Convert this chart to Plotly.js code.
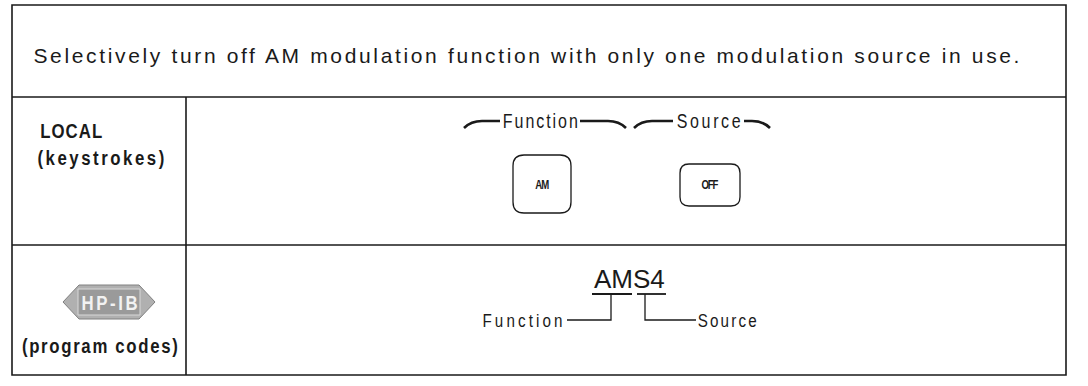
<!DOCTYPE html>
<html>
<head>
<meta charset="utf-8">
<script src="https://cdn.plot.ly/plotly-3.0.1.min.js"></script>
<style>
  html, body { margin: 0; padding: 0; background: #fff; }
  #chart { width: 1088px; height: 386px; }
</style>
</head>
<body>
<div id="chart"></div>
<script>
// ---- content (text values) ----
const headline = 'Selectively turn off AM modulation function with only one modulation source in use.';
const rowLabels = ['LOCAL', '(keystrokes)', '(program codes)'];
const busLogo = 'HP-IB';
const keyGroups = ['Function', 'Source'];
const keyLabels = ['AM', 'OFF'];
const programCode = 'AMS4';
const codeParts = ['Function', 'Source'];

// ---- layout geometry (pixel coordinates, y downward) ----
const W = 1088, H = 386;
const box = { x0: 12, x1: 1066, y0: 5, y1: 375 };
const rowY = [97, 245];
const colX = 186;

const ink = '#1a1a1a';
const narrowAvail = (function () {
  const c = document.createElement('canvas').getContext('2d');
  c.font = '40px "Liberation Sans Narrow", monospace';
  const a = c.measureText('Function LOCAL').width;
  c.font = '40px monospace';
  const b = c.measureText('Function LOCAL').width;
  return Math.abs(a - b) > 1;
})();
const condensed = narrowAvail ? 'Liberation Sans Narrow, Liberation Sans, sans-serif' : 'Liberation Sans, Arial, sans-serif';
const squeeze = narrowAvail ? 1 : 0.8;

const shapes = [];
const line = (path, w) => shapes.push({ type: 'path', path: path, xref: 'x', yref: 'y', line: { color: ink, width: w || 1.5 } });

// outer border and grid
shapes.push({ type: 'rect', xref: 'x', yref: 'y', x0: box.x0, x1: box.x1, y0: box.y0, y1: box.y1, line: { color: ink, width: 1.6 } });
rowY.forEach(y => line(`M ${box.x0} ${y} L ${box.x1} ${y}`, 1.6));
line(`M ${colX} ${rowY[0]} L ${colX} ${box.y1}`, 1.6);

// rounded keys
function roundRect(x0, y0, x1, y1, r) {
  return `M ${x0 + r} ${y0} L ${x1 - r} ${y0} Q ${x1} ${y0} ${x1} ${y0 + r} L ${x1} ${y1 - r} Q ${x1} ${y1} ${x1 - r} ${y1} ` +
         `L ${x0 + r} ${y1} Q ${x0} ${y1} ${x0} ${y1 - r} L ${x0} ${y0 + r} Q ${x0} ${y0} ${x0 + r} ${y0} Z`;
}
const keyBoxes = [[513, 155, 571, 213, 11], [680, 164, 740, 206, 9]];
keyBoxes.forEach(k => line(roundRect(k[0], k[1], k[2], k[3], k[4]), 1.3));

// braces around group labels
const braceY = 121, curlY = 128;
const braces = [[464, 500, 580, 626], [634, 673, 744, 770]];
braces.forEach(b => {
  line(`M ${b[0]} ${curlY} Q ${b[0] + 7} ${braceY} ${b[0] + 18} ${braceY} L ${b[1]} ${braceY}`, 2.6);
  line(`M ${b[2]} ${braceY} L ${b[3] - 18} ${braceY} Q ${b[3] - 7} ${braceY} ${b[3]} ${curlY}`, 2.6);
});

// program-code connectors
line('M 592 294 L 632 294', 1.8);
line('M 637 294 L 666 294', 1.8);
line('M 611 294 L 611 320 L 567 320', 1.3);
line('M 645 294 L 645 320 L 696 320', 1.3);

// HP-IB logo hexagon
shapes.push({ type: 'path', xref: 'x', yref: 'y',
  path: 'M 63 302 L 79 285 L 139 285 L 155 302 L 139 319 L 79 319 Z',
  fillcolor: '#b0b0b0', line: { color: '#808080', width: 1 } });
shapes.push({ type: 'rect', xref: 'x', yref: 'y', x0: 78, x1: 140, y0: 289, y1: 315,
  fillcolor: '#9a9a9a', line: { color: '#d8d8d8', width: 1 } });

const annotations = [];
const fit = [];   // target rendered widths (px) for each annotation, null = natural
const ann = (text, x, y, font, width) => {
  annotations.push({
    text: text, x: x, y: y, xref: 'x', yref: 'y', showarrow: false,
    xanchor: 'center', yanchor: 'middle', font: Object.assign({ color: ink }, font)
  });
  fit.push(width === undefined ? null : width);
};

ann(headline, 526, 55, { family: 'Liberation Sans, Arial, sans-serif', size: 21 }, 986);
ann(rowLabels[0], 71, 130, { family: condensed, size: 21, weight: 'bold' }, { w: 62, c: true });
ann(rowLabels[1], 101, 157, { family: condensed, size: 21, weight: 'bold' }, { w: 127, c: true });
ann(rowLabels[2], 100, 345, { family: condensed, size: 21, weight: 'bold' }, { w: 156, c: true });
ann(busLogo, 109, 302, { family: condensed, size: 21, color: '#f2f2f2', weight: 'bold' }, { w: 56, c: true });
ann(keyGroups[0], 540, 121, { family: condensed, size: 20 }, { w: 75, c: true });
ann(keyGroups[1], 708, 121, { family: condensed, size: 20 }, { w: 64, c: true });
ann(keyLabels[0], 542, 185, { family: condensed, size: 12, weight: 'bold' }, { w: 14, c: true });
ann(keyLabels[1], 710, 185, { family: condensed, size: 12, weight: 'bold' }, { w: 17, c: true });
ann(programCode, 629, 279, { family: 'Liberation Sans, Arial, sans-serif', size: 26 });
ann(codeParts[0], 522, 320, { family: condensed, size: 19 }, { w: 80, c: true });
ann(codeParts[1], 727, 320, { family: condensed, size: 19 }, { w: 59, c: true });

const layout = {
  width: W, height: H,
  margin: { l: 0, r: 0, t: 0, b: 0 },
  paper_bgcolor: '#ffffff', plot_bgcolor: '#ffffff',
  xaxis: { range: [0, W], visible: false, fixedrange: true },
  yaxis: { range: [H, 0], visible: false, fixedrange: true },
  showlegend: false,
  shapes: shapes,
  annotations: annotations
};

Plotly.newPlot('chart', [], layout, { staticPlot: true, displayModeBar: false }).then(() => {
  // the original type is widely tracked (and condensed): fit each label to its measured width
  document.querySelectorAll('g.annotation').forEach(g => {
    const i = +g.getAttribute('data-index');
    const spec = fit[i];
    if (!spec) return;
    const t = g.querySelector('text.annotation-text');
    if (!t) return;
    const target = typeof spec === 'number' ? spec : spec.w;
    const s = (typeof spec === 'object' && spec.c) ? squeeze : 1;
    const n = t.textContent.length;
    const bb0 = t.getBBox();
    const cx = bb0.x + bb0.width / 2;
    const len = t.getComputedTextLength();
    let ls = (target / s - len) / Math.max(n - 1, 1);
    if (ls < -1.5) ls = -1.5;
    t.style.letterSpacing = ls + 'px';
    // re-centre (trailing letter-spacing shifts text left) and condense about the centre
    t.setAttribute('transform',
      `translate(${cx + (ls * s) / 2} 0) scale(${s} 1) translate(${-cx} 0)`);
  });
});
</script>
</body>
</html>
